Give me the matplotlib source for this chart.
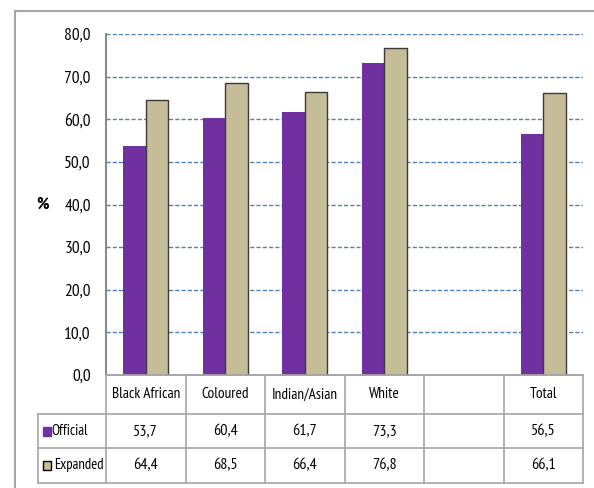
import numpy as np
import matplotlib
matplotlib.use("Agg")
import matplotlib.pyplot as plt
from matplotlib.lines import Line2D
from matplotlib.patches import Rectangle

plt.rcParams['font.family'] = ['PT Sans Narrow', 'DejaVu Sans']

# %% Data
categories = ["Black African", "Coloured", "Indian/Asian", "White", "", "Total"]
official = [53.7, 60.4, 61.7, 73.3, np.nan, 56.5]
expanded = [64.4, 68.5, 66.4, 76.8, np.nan, 66.1]
series_names = ["Official", "Expanded"]
yticks = [0, 10, 20, 30, 40, 50, 60, 70, 80]

purple = "#7030A0"
tan = "#C4BD97"
grid_blue = "#4F81BD"
line_gray = "#A6A6A6"

W, H = 594, 488
fig = plt.figure(figsize=(W / 100, H / 100), dpi=100)

def px_box(x0, y0, x1, y1):
    return [x0 / W, (H - y1) / H, (x1 - x0) / W, (y1 - y0) / H]

# %% Bars
ax = fig.add_axes(px_box(106, 34, 583, 375))
x = np.arange(len(categories))
bw = 0.28
ax.bar(x - bw / 2, official, bw, color=purple, zorder=3)
ax.bar(x + bw / 2, expanded, bw, color=tan, edgecolor="#3a3a3a", linewidth=1.0, zorder=3)

ax.set_xlim(-0.5, len(categories) - 0.5)
ax.set_ylim(0, 80)
ax.set_yticks(yticks)
ax.set_yticklabels([f"{v:.1f}".replace(".", ",") for v in yticks], fontsize=12.5)
ax.tick_params(axis="y", length=0, pad=11)
ax.set_xticks([])
for s in ["top", "right"]:
    ax.spines[s].set_visible(False)
ax.spines["left"].set_color("#8c8c8c")
ax.spines["left"].set_linewidth(1.5)
ax.spines["bottom"].set_color(line_gray)
ax.spines["bottom"].set_linewidth(1.2)
ax.yaxis.grid(True, color=grid_blue, linestyle=(0, (3, 1.5)), linewidth=1.0, zorder=0)
ax.set_axisbelow(True)
ax.set_ylabel("%", rotation=0, fontsize=12.5, fontweight="bold", labelpad=16, va="center")

# %% Data table under the chart
tab = fig.add_axes(px_box(106, 375, 583, 483))
tab.set_xlim(-0.5, len(categories) - 0.5)
tab.set_ylim(108, 0)
tab.axis("off")

row_edges = [0, 39, 73, 108]
legend_left = -0.5 - 68 / 79.5
lkw = dict(color=line_gray, linewidth=1.2, clip_on=False)

# horizontal lines
tab.plot([-0.5, 5.5], [0, 0], **lkw)
for y in row_edges[1:]:
    tab.plot([legend_left, 5.5], [y, y], **lkw)
# vertical lines
for xe in np.arange(-0.5, 6.0, 1.0):
    tab.plot([xe, xe], [0, 108], **lkw)
tab.plot([legend_left, legend_left], [39, 108], **lkw)

fs = 11.5
for i, cat in enumerate(categories):
    tab.text(i, 19.5, cat, ha="center", va="center", fontsize=fs - 0.5)
    for r, vals in enumerate([official, expanded]):
        v = vals[i]
        txt = "" if np.isnan(v) else f"{v:.1f}".replace(".", ",")
        tab.text(i, (row_edges[r + 1] + row_edges[r + 2]) / 2, txt,
                 ha="center", va="center", fontsize=fs)

# legend keys inside the row headers
u = 1 / 79.5
tab.add_patch(Rectangle((legend_left + 5 * u, 52), 8 * u, 9, color=purple, clip_on=False))
tab.add_patch(Rectangle((legend_left + 5 * u, 86), 8 * u, 9, facecolor=tan,
                        edgecolor="black", linewidth=1.0, clip_on=False))
tab.text(legend_left + 13 * u, 56, series_names[0], ha="left", va="center", fontsize=10.5)
tab.text(legend_left + 16 * u, 90, series_names[1], ha="left", va="center", fontsize=10.5)

# outer chart border (cropped on right and bottom)
fig.add_artist(Line2D([15 / W, 15 / W], [0, (H - 11) / H], color=line_gray, linewidth=1.5))
fig.add_artist(Line2D([15 / W, 1], [(H - 11) / H, (H - 11) / H], color=line_gray, linewidth=1.5))

fig.savefig("out.png", dpi=100)
